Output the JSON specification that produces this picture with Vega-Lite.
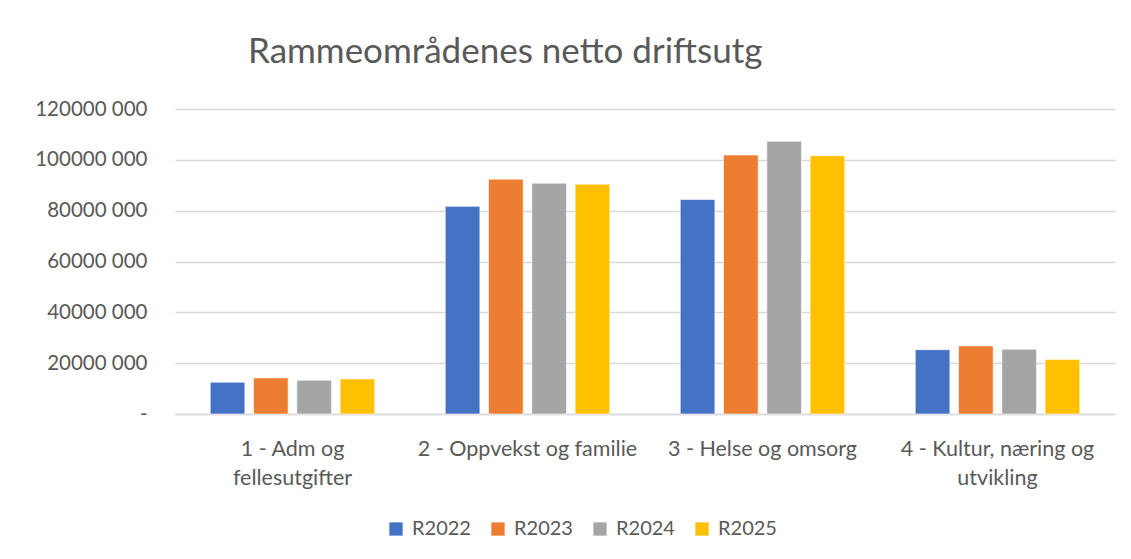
{
  "$schema": "https://vega.github.io/schema/vega-lite/v6.json",
  "autosize": {"type": "none"},
  "width": 940,
  "height": 305,
  "padding": {"left": 175, "top": 109, "right": 16, "bottom": 145},
  "background": "white",
  "title": {
    "text": "Rammeområdenes netto driftsutg",
    "anchor": "start",
    "frame": "group",
    "dx": 73,
    "offset": 29,
    "font": "Lato",
    "fontSize": 35,
    "fontWeight": "normal",
    "color": "#595959"
  },
  "data": {
    "values": [
      {"omrade": "1 - Adm og fellesutgifter", "aar": "R2022", "belop": 12500000},
      {"omrade": "1 - Adm og fellesutgifter", "aar": "R2023", "belop": 14200000},
      {"omrade": "1 - Adm og fellesutgifter", "aar": "R2024", "belop": 13300000},
      {"omrade": "1 - Adm og fellesutgifter", "aar": "R2025", "belop": 13800000},
      {"omrade": "2 - Oppvekst og familie", "aar": "R2022", "belop": 81700000},
      {"omrade": "2 - Oppvekst og familie", "aar": "R2023", "belop": 92400000},
      {"omrade": "2 - Oppvekst og familie", "aar": "R2024", "belop": 90800000},
      {"omrade": "2 - Oppvekst og familie", "aar": "R2025", "belop": 90400000},
      {"omrade": "3 - Helse og omsorg", "aar": "R2022", "belop": 84400000},
      {"omrade": "3 - Helse og omsorg", "aar": "R2023", "belop": 101900000},
      {"omrade": "3 - Helse og omsorg", "aar": "R2024", "belop": 107300000},
      {"omrade": "3 - Helse og omsorg", "aar": "R2025", "belop": 101600000},
      {"omrade": "4 - Kultur, næring og utvikling", "aar": "R2022", "belop": 25300000},
      {"omrade": "4 - Kultur, næring og utvikling", "aar": "R2023", "belop": 26800000},
      {"omrade": "4 - Kultur, næring og utvikling", "aar": "R2024", "belop": 25500000},
      {"omrade": "4 - Kultur, næring og utvikling", "aar": "R2025", "belop": 21400000}
    ]
  },
  "mark": {"type": "bar", "stroke": "white", "strokeWidth": 1, "strokeOpacity": 0.6},
  "encoding": {
    "x": {
      "field": "omrade",
      "type": "nominal",
      "sort": null,
      "scale": {"paddingInner": 0.3, "paddingOuter": 0.15},
      "axis": {
        "title": null,
        "labelAngle": 0,
        "ticks": false,
        "domain": true,
        "domainColor": "#D9D9D9",
        "domainWidth": 1.5,
        "labelFont": "Lato",
        "labelFontSize": 21.5,
        "labelColor": "#595959",
        "labelPadding": 24,
        "labelLineHeight": 29,
        "labelLimit": 400,
        "labelExpr": "datum.label == '1 - Adm og fellesutgifter' ? ['1 - Adm og', 'fellesutgifter'] : datum.label == '4 - Kultur, næring og utvikling' ? ['4 - Kultur, næring og', 'utvikling'] : datum.label"
      }
    },
    "xOffset": {"field": "aar", "type": "nominal", "scale": {"paddingInner": 0.2}},
    "y": {
      "field": "belop",
      "type": "quantitative",
      "scale": {"domain": [0, 120000000], "nice": false},
      "axis": {
        "title": null,
        "values": [0, 20000000, 40000000, 60000000, 80000000, 100000000, 120000000],
        "labelExpr": "datum.value == 0 ? '-' : format(datum.value / 1000, 'd') + ' 000'",
        "domain": false,
        "ticks": false,
        "labelPadding": 28,
        "labelFont": "Lato",
        "labelFontSize": 20.5,
        "labelColor": "#595959",
        "gridColor": "#D9D9D9",
        "gridWidth": 1.5
      }
    },
    "color": {
      "field": "aar",
      "type": "nominal",
      "scale": {"domain": ["R2022", "R2023", "R2024", "R2025"], "range": ["#4472C4", "#ED7D31", "#A5A5A5", "#FFC000"]},
      "legend": {
        "title": null,
        "orient": "none",
        "legendX": 211,
        "legendY": 410,
        "padding": 0,
        "direction": "horizontal",
        "symbolType": "square",
        "symbolSize": 177,
        "symbolStrokeWidth": 0,
        "labelFont": "Lato",
        "labelFontSize": 20,
        "labelColor": "#595959",
        "columnPadding": 17,
        "labelOffset": 6
      }
    }
  },
  "config": {"view": {"stroke": null}}
}
